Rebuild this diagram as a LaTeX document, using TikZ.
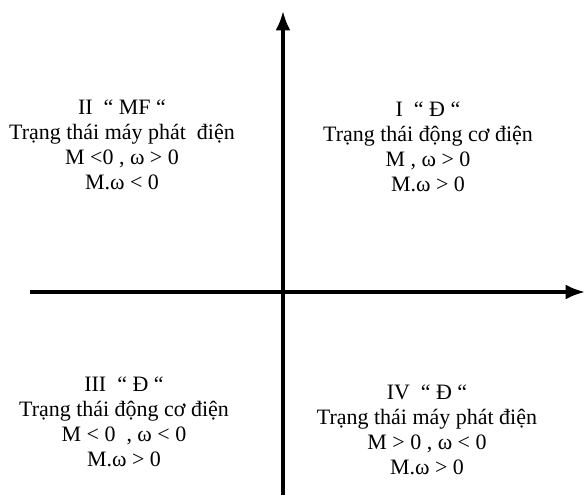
\documentclass[tikz,border=0pt]{standalone}
\usepackage{fontspec}
\setmainfont{Liberation Serif}
\usetikzlibrary{arrows.meta,positioning}

\begin{document}
\begin{tikzpicture}[>={Latex[length=11pt,width=8.5pt]},
    quad/.style={align=center, font=\fontsize{12.5}{14.2}\selectfont, inner sep=0pt},
    axis/.style={line width=1.9pt}]
    \useasboundingbox (-5.66,-4.06) rectangle (6.04,5.84);
    % axes
    \coordinate (xl) at (-5.06,0);
    \coordinate (xr) at (6.04,0);
    \coordinate (yb) at (0,-4.06);
    \coordinate (yt) at (0,5.62);
    \draw [axis,->] (xl) -- (xr);
    \draw [axis,->] (yb) -- (yt);
    % quadrants
    \node [quad] (q1) at (2.9,2.9) {I \ “ Đ “\\Trạng thái động cơ điện\\M , ω > 0\\M.ω > 0};
    \node [quad] (q2) at (-3.22,2.94) {II \ “ MF “\\Trạng thái máy phát \ điện\\M <0 , ω > 0\\M.ω < 0};
    \node [quad] (q3) at (-3.18,-2.6) {III \ “ Đ “\\Trạng thái động cơ điện\\M < 0 \ , ω < 0\\M.ω > 0};
    \node [quad] (q4) at (2.88,-2.76) {IV \ “ Đ “\\Trạng thái máy phát điện\\M > 0 , ω < 0\\M.ω > 0};
\end{tikzpicture}
\end{document}
